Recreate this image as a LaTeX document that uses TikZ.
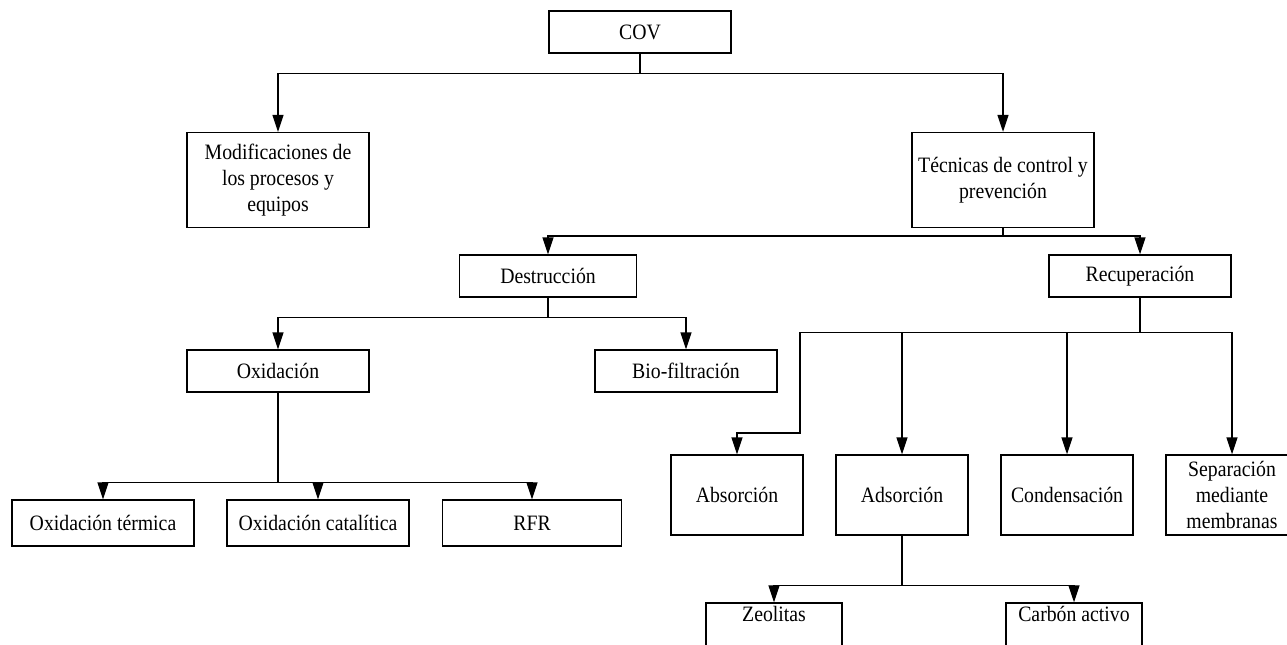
\documentclass[tikz,border=0pt]{standalone}
\usepackage{fontspec}
\setmainfont[FakeStretch=0.9]{Liberation Serif}
\usetikzlibrary{arrows.meta}
\tikzset{
	caja/.style={draw, line width=0.75pt, inner sep=0pt, align=center,
		font=\fontsize{12.5}{15}\selectfont},
	ancha/.style={caja, minimum width=3.64cm, minimum height=0.84cm},
	alta/.style={caja, minimum width=3.64cm, minimum height=1.9cm},
	media/.style={caja, minimum width=2.64cm, minimum height=1.6cm},
	baja/.style={caja, minimum width=2.72cm, minimum height=0.92cm, text depth=0.5cm},
	flecha/.style={line width=0.75pt, -{Triangle[length=0.34cm,width=0.22cm]}}
}
\begin{document}
\begin{tikzpicture}[x=0.02cm, y=-0.02cm]
		\useasboundingbox (0,0) rectangle (1287,645);
		% primer nivel
		\node[ancha] (cov) at (640,32) {COV};
		\node[alta] (mod) at (278,180) {Modificaciones de\\los procesos y\\equipos};
		\node[alta] (tec) at (1003,180) {Técnicas de control y\\prevención};
		\draw[flecha] (cov.south) -- ++(0,20) -| (mod.north);
		\draw[flecha] (cov.south) -- ++(0,20) -| (tec.north);
		% destruccion y recuperacion
		\node[ancha, minimum width=3.54cm] (des) at (548,276) {Destrucción};
		\node[ancha] (rec) at (1140,276) {Recuperación};
		\draw[flecha] (tec.south) -- ++(0,8) -| (des.north);
		\draw[flecha] (tec.south) -- ++(0,8) -| (rec.north);
		\node[ancha] (oxi) at (278,371) {Oxidación};
		\node[ancha] (bio) at (686,371) {Bio-filtración};
		\draw[flecha] (des.south) -- ++(0,20) -| (oxi.north);
		\draw[flecha] (des.south) -- ++(0,20) -| (bio.north);
		% oxidacion
		\node[ancha, minimum height=0.92cm] (oxt) at (103,523) {Oxidación térmica};
		\node[ancha, minimum height=0.92cm] (oxc) at (318,523) {Oxidación catalítica};
		\node[ancha, minimum height=0.92cm, minimum width=3.58cm] (rfr) at (532,523) {RFR};
		\draw[flecha] (oxi.south) -- ++(0,90) -| (oxt.north);
		\draw[flecha] (oxi.south) -- ++(0,90) -| (oxc.north);
		\draw[flecha] (oxi.south) -- ++(0,90) -| (rfr.north);
		% recuperacion
		\node[media] (abs) at (737,495) {Absorción};
		\node[media] (ads) at (902,495) {Adsorción};
		\node[media] (con) at (1067,495) {Condensación};
		\node[media] (sep) at (1232,495) {Separación\\mediante\\membranas};
		\coordinate (codo) at (800,433);
		\draw[flecha] (rec.south) -- ++(0,35) -| (codo) -| (abs.north);
		\draw[flecha] (rec.south) -- ++(0,35) -| (ads.north);
		\draw[flecha] (rec.south) -- ++(0,35) -| (con.north);
		\draw[flecha] (rec.south) -- ++(0,35) -| (sep.north);
		% adsorcion
		\node[baja] (zeo) at (774,626) {Zeolitas};
		\node[baja] (car) at (1074,626) {Carbón activo};
		\draw[flecha] (ads.south) -- ++(0,50) -| (zeo.north);
		\draw[flecha] (ads.south) -- ++(0,50) -| (car.north);
\end{tikzpicture}
\end{document}
